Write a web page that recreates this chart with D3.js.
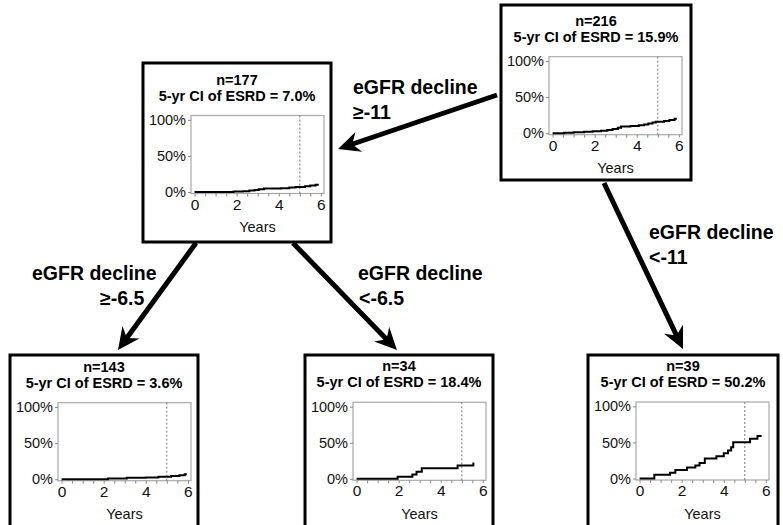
<!DOCTYPE html>
<html>
<head>
<meta charset="utf-8">
<script src="https://cdn.jsdelivr.net/npm/d3@7"></script>
<style>
  body { margin: 0; background: #fff; }
  svg { display: block; font-family: "Liberation Sans", Arial, Helvetica, sans-serif; }
</style>
</head>
<body>
<svg id="chart" width="783" height="525"></svg>
<script>
// ---- Tree nodes: size and 5-year cumulative incidence of ESRD (%) ----
const nodeSizes  = [216, 177, 143, 34, 39];
const fiveYearCI = [15.9, 7.0, 3.6, 18.4, 50.2];

// ---- Cumulative incidence step curves (years, %) per node ----
const timesRoot  = [0, 0.55, 1.0, 1.5, 1.9, 2.3, 2.6, 2.85, 3.1, 3.25, 3.7, 4.1, 4.35, 4.55, 4.75, 4.9, 5.3, 5.55, 5.8];
const cifRoot    = [0, 0.8, 1.3, 2.0, 2.7, 3.5, 4.5, 5.8, 7.5, 9.5, 10.2, 11.0, 12.0, 13.5, 14.8, 15.9, 17.0, 18.5, 20.0];

const timesSlow  = [0, 1.85, 2.3, 2.6, 2.85, 3.05, 3.3, 4.1, 4.5, 4.8, 5.25, 5.5, 5.75];
const cifSlow    = [0, 0.6, 1.2, 2.0, 2.8, 3.8, 4.8, 5.4, 6.2, 7.0, 8.0, 9.0, 10.2];

const timesSlowest = [0, 2.2, 3.1, 4.0, 4.6, 5.2, 5.6, 5.85];
const cifSlowest   = [0, 1.0, 2.0, 2.5, 3.6, 4.6, 5.6, 6.8];

const timesMid   = [0, 1.95, 2.65, 2.85, 3.1, 4.8, 5.55];
const cifMid     = [0, 2.9, 5.9, 9.8, 14.7, 18.4, 22.8];

const timesFast  = [0, 0.7, 1.45, 1.7, 2.25, 2.65, 2.85, 3.1, 3.65, 4.0, 4.2, 4.35, 4.45, 5.25, 5.6];
const cifFast    = [0, 5.1, 7.9, 12.0, 15.2, 18.1, 21.4, 27.8, 31.0, 35.0, 39.0, 43.5, 50.2, 55.0, 59.0];

const followUpEnd = [5.9, 5.9, 5.95, 5.55, 5.8];

// ---- Axis ticks and split labels ----
const yearTicks    = [0, 2, 4, 6];
const minorYears   = d3.range(0, 6.01, 0.5);
const percentTicks = [0, 50, 100];
const splitVariable = "eGFR decline";
const splitLabels  = ["≥-11", "<-11", "≥-6.5", "<-6.5"];

const nodeTimes = [timesRoot, timesSlow, timesSlowest, timesMid, timesFast];
const nodeCIF   = [cifRoot, cifSlow, cifSlowest, cifMid, cifFast];

// ---- Layout ----
const boxes = [
  { x: 501, y: 5,   w: 190, h: 175, cy: 20.7 },
  { x: 143, y: 63,  w: 188, h: 179, cy: 79.5 },
  { x: 10,  y: 355, w: 188, h: 200, cy: 366.7 },
  { x: 305, y: 355, w: 188, h: 200, cy: 366.3 },
  { x: 588, y: 355, w: 190, h: 200, cy: 366.0 }
];
const arrows = [
  { x1: 497, y1: 95,  x2: 338, y2: 149 },
  { x1: 604, y1: 183, x2: 683, y2: 349 },
  { x1: 196, y1: 243, x2: 118, y2: 350 },
  { x1: 293, y1: 243, x2: 397, y2: 350 }
];
const labelPos = [
  { x: 353, y: 87,  x2: 353 },
  { x: 649, y: 232, x2: 649 },
  { x: 32,  y: 273, x2: 100 },
  { x: 358, y: 273, x2: 359 }
];

const FONT = "'Liberation Sans', Arial, sans-serif";
const svg = d3.select("#chart");

// Arrows
arrows.forEach(a => {
  const ang = Math.atan2(a.y2 - a.y1, a.x2 - a.x1);
  const back = 14;
  svg.append("line")
    .attr("x1", a.x1).attr("y1", a.y1)
    .attr("x2", a.x2 - back * Math.cos(ang)).attr("y2", a.y2 - back * Math.sin(ang))
    .attr("stroke", "#000").attr("stroke-width", 5);
  svg.append("path")
    .attr("d", "M0,0 L-22,-10.5 L-15,0 L-22,10.5 Z")
    .attr("transform", `translate(${a.x2},${a.y2}) rotate(${ang * 180 / Math.PI})`)
    .attr("fill", "#000");
});

// Split labels
splitLabels.forEach((lab, i) => {
  const p = labelPos[i];
  const g = svg.append("g").attr("font-size", 19.5).attr("font-weight", "bold").attr("fill", "#000");
  g.append("text").attr("x", p.x).attr("y", p.y + 7).text(splitVariable);
  g.append("text").attr("x", p.x2).attr("y", p.y + 32).text(lab);
});

// Node panels
nodeSizes.forEach((n, i) => {
  const b = boxes[i];
  const g = svg.append("g");
  g.append("rect")
    .attr("x", b.x).attr("y", b.y).attr("width", b.w).attr("height", b.h)
    .attr("fill", "#fff").attr("stroke", "#000").attr("stroke-width", 3);

  const cx = b.x + b.w / 2;
  g.append("text").attr("x", cx).attr("y", b.cy + 5)
    .attr("text-anchor", "middle").attr("font-size", 14.5).attr("font-weight", "bold")
    .text(`n=${n}`);
  g.append("text").attr("x", cx).attr("y", b.cy + 21)
    .attr("text-anchor", "middle").attr("font-size", 14.5).attr("font-weight", "bold")
    .text(`5-yr CI of ESRD = ${fiveYearCI[i].toFixed(1)}%`);

  const fx0 = b.x + 48, fx1 = b.x + 181;
  const fy0 = b.cy + 36, fy1 = b.cy + 114;
  const x = d3.scaleLinear().domain([-0.17, 6.15]).range([fx0, fx1]);
  const y = d3.scaleLinear().domain([-2, 106]).range([fy1, fy0]);

  // Plot frame
  g.append("rect")
    .attr("x", fx0).attr("y", fy0).attr("width", fx1 - fx0).attr("height", fy1 - fy0)
    .attr("fill", "none").attr("stroke", "#a8a8a8").attr("stroke-width", 1.2);

  // Y axis
  const yAxis = d3.axisLeft(y).tickValues(percentTicks).tickSize(3).tickPadding(2)
    .tickFormat(d => d + "%");
  const ya = g.append("g").attr("transform", `translate(${fx0},0)`).call(yAxis);
  ya.select(".domain").remove();
  ya.selectAll(".tick line").attr("stroke", "#888");
  ya.selectAll(".tick text").attr("font-size", 14.5).attr("fill", "#111").attr("font-family", FONT);

  // X axis: minor ticks every half year, labels at even years
  const xMinor = d3.axisBottom(x).tickValues(minorYears).tickSize(3).tickFormat("");
  const xm = g.append("g").attr("transform", `translate(0,${fy1})`).call(xMinor);
  xm.select(".domain").remove();
  xm.selectAll(".tick line").attr("stroke", "#888");
  const xAxis = d3.axisBottom(x).tickValues(yearTicks).tickSize(0).tickPadding(5)
    .tickFormat(d3.format("d"));
  const xa = g.append("g").attr("transform", `translate(0,${fy1})`).call(xAxis);
  xa.select(".domain").remove();
  xa.selectAll(".tick text").attr("font-size", 15.5).attr("fill", "#111").attr("font-family", FONT);

  g.append("text").attr("x", (fx0 + fx1) / 2).attr("y", b.cy + 152.5)
    .attr("text-anchor", "middle").attr("font-size", 14.5).attr("fill", "#111")
    .text("Years");

  // 5-year reference line
  g.append("line")
    .attr("x1", x(5)).attr("x2", x(5)).attr("y1", fy0).attr("y2", fy1)
    .attr("stroke", "#777").attr("stroke-width", 1).attr("stroke-dasharray", "2,2");

  // Cumulative incidence curve
  const pts = nodeTimes[i].map((t, k) => [t, nodeCIF[i][k]]);
  pts.push([followUpEnd[i], nodeCIF[i][nodeCIF[i].length - 1]]);
  const line = d3.line().x(d => x(d[0])).y(d => y(d[1])).curve(d3.curveStepAfter);
  g.append("path").datum(pts).attr("d", line)
    .attr("fill", "none").attr("stroke", "#000").attr("stroke-width", 2);
});
</script>
</body>
</html>
